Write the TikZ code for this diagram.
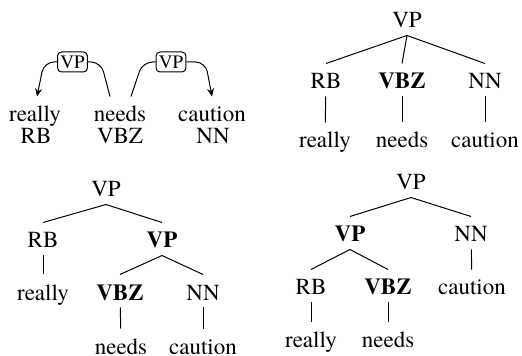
\documentclass[tikz,border=0pt]{standalone}
\usepackage{fontspec}
\setmainfont{TeX Gyre Termes}
\usepackage{tikz}
\usetikzlibrary{arrows.meta}

\tikzset{
  tag/.style={anchor=base, inner sep=0pt, text height=9pt, text depth=0pt, outer ysep=3.75pt},
  headtag/.style={tag, font=\fontsize{11.5}{14}\selectfont\bfseries},
  arclabel/.style={draw, rounded corners=2pt, inner xsep=1.4pt, inner ysep=1.8pt, font=\fontsize{9.5}{11}\selectfont},
  arcline/.style={rounded corners=5pt},
}

\begin{document}
\begin{tikzpicture}[x=0.5pt, y=-0.5pt, line width=0.5pt, font=\fontsize{11.5}{14}\selectfont]
      \useasboundingbox (0,0) rectangle (522,356);

      % dependency arcs
      \node[tag] (really) at (35,122) {really};
      \node[tag] (needs) at (120,122) {needs};
      \node[tag] (caution) at (212,122) {caution};
      \node[tag] (rbA) at (36,144) {RB};
      \node[tag] (vbzA) at (120,144) {VBZ};
      \node[tag] (nnA) at (213,144) {NN};
      \node[arclabel] (vpA) at (72.5,62) {VP};
      \node[arclabel] (vpB) at (171,62) {VP};
      \draw[arcline, -{Stealth[length=4pt,width=3.5pt]}] (vpA.west) -- ++(-13,0) -- ([xshift=1pt]really.north);
      \draw[arcline] (vpA.east) -- ++(13,0) -- ([xshift=-5pt]needs.north);
      \draw[arcline] (vpB.west) -- ++(-13,0) -- ([xshift=5.5pt]needs.north);
      \draw[arcline, -{Stealth[length=4pt,width=3.5pt]}] (vpB.east) -- ++(19,0) -- (caution.north);

      % flat tree
      \node[tag] (vpC) at (407,28) {VP};
      \node[tag] (rbC) at (326,89) {RB};
      \node[headtag] (vbzC) at (402,89) {VBZ};
      \node[tag] (nnC) at (485,89) {NN};
      \node[tag] (reallyC) at (325,148) {really};
      \node[tag] (needsC) at (402,148) {needs};
      \node[tag] (cautionC) at (485,148) {caution};
      \draw (vpC.south) -- (rbC.north);
      \draw (vpC.south) -- (vbzC.north);
      \draw (vpC.south) -- (nnC.north);
      \draw (rbC) -- (reallyC);
      \draw (vbzC) -- (needsC);
      \draw (nnC) -- (cautionC);

      % right branching
      \node[tag] (vpD) at (106,197) {VP};
      \node[tag] (rbD) at (43,248) {RB};
      \node[headtag] (vpE) at (162,248) {VP};
      \node[tag] (reallyD) at (43,300) {really};
      \node[headtag] (vbzD) at (120,300) {VBZ};
      \node[tag] (nnD) at (203,300) {NN};
      \node[tag] (needsD) at (121,354) {needs};
      \node[tag] (cautionD) at (203,354) {caution};
      \draw (vpD.south) -- (rbD.north);
      \draw (vpD.south) -- (vpE.north);
      \draw (rbD) -- (reallyD);
      \draw (vpE.south) -- (vbzD.north);
      \draw (vpE.south) -- (nnD.north);
      \draw (vbzD) -- (needsD);
      \draw (nnD) -- (cautionD);

      % left branching
      \node[tag] (vpF) at (411,190) {VP};
      \node[headtag] (vpG) at (350,242) {VP};
      \node[tag] (nnF) at (471,242) {NN};
      \node[tag] (rbF) at (311,295) {RB};
      \node[headtag] (vbzF) at (388,295) {VBZ};
      \node[tag] (cautionF) at (472,295) {caution};
      \node[tag] (reallyF) at (311,347) {really};
      \node[tag] (needsF) at (388,347) {needs};
      \draw (vpF.south) -- (vpG.north);
      \draw (vpF.south) -- (nnF.north);
      \draw (vpG.south) -- (rbF.north);
      \draw (vpG.south) -- (vbzF.north);
      \draw (nnF) -- (cautionF);
      \draw (rbF) -- (reallyF);
      \draw (vbzF) -- (needsF);
    \end{tikzpicture}
\end{document}
